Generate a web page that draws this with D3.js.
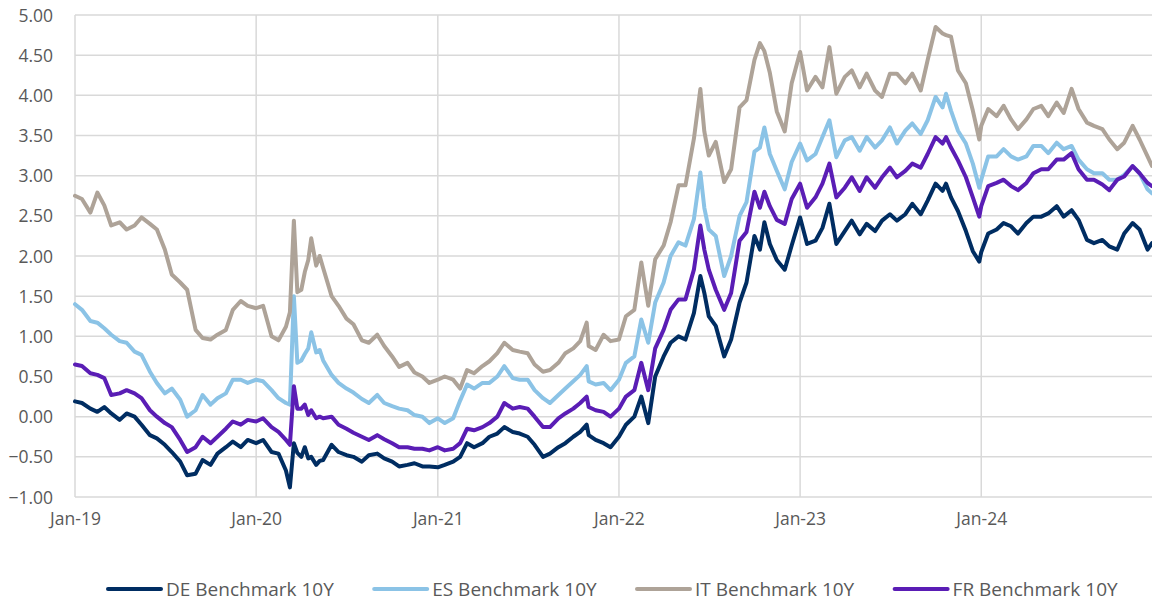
<!DOCTYPE html>
<html lang="en">
<head>
<meta charset="UTF-8">
<title>10Y benchmark yields</title>
<script src="https://d3js.org/d3.v7.min.js"></script>
<style>
  html, body { margin: 0; padding: 0; background: #fff; }
  svg { display: block; }
  text { font-family: "Open Sans", sans-serif; fill: #595959; }
</style>
</head>
<body>
<svg width="1152" height="599"></svg>
<script>
// observation dates (semi-monthly, plus a few spike days)
const dates = [
  "2019-01-01","2019-01-15","2019-02-01","2019-02-15","2019-03-01","2019-03-15","2019-04-01","2019-04-15",
  "2019-05-01","2019-05-15","2019-06-01","2019-06-15","2019-07-01","2019-07-15","2019-08-01","2019-08-15",
  "2019-09-01","2019-09-15","2019-10-01","2019-10-15","2019-11-01","2019-11-15","2019-12-01","2019-12-15",
  "2020-01-01","2020-01-15","2020-02-01","2020-02-15","2020-03-01","2020-03-09","2020-03-17","2020-03-24",
  "2020-04-01","2020-04-08","2020-04-15","2020-04-21","2020-05-01","2020-05-08","2020-05-15","2020-06-01",
  "2020-06-15","2020-07-01","2020-07-15","2020-08-01","2020-08-15","2020-09-01","2020-09-15","2020-10-01",
  "2020-10-15","2020-11-01","2020-11-15","2020-12-01","2020-12-15",
  "2021-01-01","2021-01-15","2021-02-01","2021-02-15","2021-03-01","2021-03-15","2021-04-01","2021-04-15",
  "2021-05-01","2021-05-15","2021-06-01","2021-06-15","2021-07-01","2021-07-15","2021-08-01","2021-08-15",
  "2021-09-01","2021-09-15","2021-10-01","2021-10-15","2021-10-28","2021-11-01","2021-11-15","2021-12-01",
  "2021-12-15",
  "2022-01-01","2022-01-15","2022-02-01","2022-02-15","2022-03-01","2022-03-15","2022-04-01","2022-04-15",
  "2022-05-01","2022-05-15","2022-06-01","2022-06-14","2022-06-22","2022-07-01","2022-07-15","2022-08-01",
  "2022-08-15","2022-09-01","2022-09-15","2022-10-01","2022-10-12","2022-10-21","2022-11-01","2022-11-15",
  "2022-12-01","2022-12-15",
  "2023-01-01","2023-01-15","2023-02-01","2023-02-15","2023-03-01","2023-03-15","2023-04-01","2023-04-15",
  "2023-05-01","2023-05-15","2023-06-01","2023-06-15","2023-07-01","2023-07-15","2023-08-01","2023-08-15",
  "2023-09-01","2023-09-15","2023-10-01","2023-10-15","2023-10-22","2023-11-01","2023-11-15","2023-12-01",
  "2023-12-15","2023-12-28",
  "2024-01-01","2024-01-15","2024-02-01","2024-02-15","2024-03-01","2024-03-15","2024-04-01","2024-04-15",
  "2024-05-01","2024-05-15","2024-06-01","2024-06-15","2024-07-01","2024-07-15","2024-08-01","2024-08-15",
  "2024-09-01","2024-09-15","2024-10-01","2024-10-15","2024-11-01","2024-11-15","2024-12-01","2024-12-10"
];

const deValues = [
  0.19, 0.17, 0.10, 0.06, 0.12, 0.04, -0.04, 0.04, 0.00, -0.10, -0.23, -0.27, -0.35, -0.44, -0.56, -0.73, -0.71, -0.54, -0.60, -0.46, -0.38, -0.31, -0.38, -0.29,
  -0.33, -0.29, -0.44, -0.46, -0.67, -0.88, -0.33, -0.45, -0.50, -0.38, -0.52, -0.50, -0.60, -0.55, -0.54, -0.35, -0.44, -0.48, -0.50, -0.56, -0.48, -0.46, -0.52, -0.56, -0.62, -0.60, -0.58, -0.62, -0.62,
  -0.63, -0.60, -0.56, -0.50, -0.33, -0.38, -0.33, -0.25, -0.21, -0.13, -0.19, -0.21, -0.25, -0.35, -0.50, -0.46, -0.38, -0.33, -0.25, -0.19, -0.10, -0.23, -0.29, -0.33, -0.38,
  -0.25, -0.10, 0.00, 0.25, -0.08, 0.50, 0.75, 0.92, 1.00, 0.96, 1.29, 1.75, 1.54, 1.25, 1.13, 0.75, 0.96, 1.42, 1.67, 2.25, 2.08, 2.42, 2.15, 1.95, 1.83, 2.13,
  2.48, 2.15, 2.19, 2.35, 2.65, 2.15, 2.31, 2.44, 2.27, 2.40, 2.31, 2.44, 2.52, 2.44, 2.52, 2.65, 2.52, 2.69, 2.90, 2.81, 2.90, 2.73, 2.56, 2.31, 2.06, 1.93,
  2.05, 2.28, 2.33, 2.41, 2.37, 2.28, 2.41, 2.49, 2.49, 2.53, 2.62, 2.49, 2.57, 2.45, 2.20, 2.16, 2.20, 2.12, 2.08, 2.28, 2.41, 2.33, 2.08, 2.16
];

const esValues = [
  1.40, 1.33, 1.19, 1.17, 1.10, 1.02, 0.94, 0.92, 0.81, 0.77, 0.56, 0.42, 0.29, 0.35, 0.21, 0.00, 0.08, 0.27, 0.15, 0.23, 0.29, 0.46, 0.46, 0.42,
  0.46, 0.44, 0.33, 0.23, 0.17, 0.15, 1.50, 0.67, 0.70, 0.78, 0.85, 1.05, 0.80, 0.83, 0.70, 0.52, 0.42, 0.35, 0.30, 0.22, 0.17, 0.27, 0.17, 0.13, 0.10, 0.08, 0.02, 0.00, -0.08,
  -0.02, -0.08, -0.02, 0.20, 0.40, 0.35, 0.42, 0.42, 0.50, 0.63, 0.48, 0.46, 0.46, 0.33, 0.23, 0.17, 0.27, 0.35, 0.44, 0.52, 0.63, 0.44, 0.40, 0.42, 0.33,
  0.46, 0.67, 0.75, 1.21, 0.92, 1.42, 1.67, 2.00, 2.17, 2.13, 2.46, 3.04, 2.60, 2.33, 2.25, 1.75, 2.00, 2.50, 2.67, 3.30, 3.35, 3.60, 3.27, 3.06, 2.83, 3.17,
  3.40, 3.19, 3.27, 3.48, 3.69, 3.23, 3.44, 3.48, 3.31, 3.48, 3.35, 3.44, 3.60, 3.40, 3.56, 3.65, 3.52, 3.69, 3.98, 3.85, 4.02, 3.81, 3.56, 3.40, 3.15, 2.85,
  2.95, 3.24, 3.24, 3.33, 3.24, 3.20, 3.24, 3.37, 3.37, 3.28, 3.41, 3.33, 3.37, 3.20, 3.08, 3.03, 3.03, 2.95, 2.95, 3.01, 3.12, 3.03, 2.83, 2.78
];

const itValues = [
  2.75, 2.71, 2.54, 2.79, 2.63, 2.38, 2.42, 2.33, 2.38, 2.48, 2.40, 2.33, 2.08, 1.77, 1.67, 1.58, 1.08, 0.98, 0.96, 1.02, 1.08, 1.33, 1.44, 1.38,
  1.35, 1.38, 1.00, 0.95, 1.12, 1.30, 2.44, 1.55, 1.58, 1.80, 1.95, 2.22, 1.88, 2.00, 1.85, 1.50, 1.38, 1.22, 1.15, 0.95, 0.92, 1.02, 0.88, 0.75, 0.62, 0.67, 0.55, 0.50, 0.42,
  0.46, 0.50, 0.46, 0.35, 0.58, 0.54, 0.63, 0.69, 0.79, 0.92, 0.83, 0.81, 0.79, 0.65, 0.56, 0.58, 0.67, 0.79, 0.85, 0.94, 1.17, 0.88, 0.83, 1.02, 0.94,
  0.96, 1.25, 1.33, 1.92, 1.38, 1.96, 2.13, 2.42, 2.88, 2.88, 3.46, 4.08, 3.55, 3.25, 3.42, 2.92, 3.08, 3.85, 3.94, 4.44, 4.65, 4.55, 4.28, 3.80, 3.55, 4.15,
  4.54, 4.06, 4.23, 4.10, 4.60, 4.02, 4.23, 4.31, 4.10, 4.27, 4.06, 3.98, 4.27, 4.27, 4.15, 4.27, 4.06, 4.44, 4.85, 4.77, 4.75, 4.73, 4.31, 4.15, 3.81, 3.45,
  3.62, 3.83, 3.74, 3.87, 3.70, 3.58, 3.70, 3.83, 3.87, 3.74, 3.91, 3.78, 4.08, 3.83, 3.66, 3.62, 3.58, 3.45, 3.33, 3.41, 3.62, 3.45, 3.24, 3.12
];

const frValues = [
  0.65, 0.63, 0.54, 0.52, 0.48, 0.27, 0.29, 0.33, 0.29, 0.23, 0.08, 0.00, -0.08, -0.13, -0.29, -0.44, -0.38, -0.25, -0.33, -0.25, -0.15, -0.06, -0.10, -0.04,
  -0.06, -0.02, -0.13, -0.19, -0.29, -0.35, 0.38, 0.10, 0.10, 0.15, 0.02, 0.08, -0.02, 0.00, -0.02, 0.00, -0.10, -0.15, -0.20, -0.25, -0.29, -0.23, -0.28, -0.33, -0.38, -0.38, -0.40, -0.40, -0.42,
  -0.38, -0.42, -0.40, -0.33, -0.15, -0.17, -0.13, -0.08, 0.00, 0.17, 0.10, 0.12, 0.10, 0.00, -0.13, -0.13, -0.02, 0.04, 0.10, 0.17, 0.25, 0.12, 0.08, 0.06, 0.00,
  0.10, 0.25, 0.33, 0.67, 0.33, 0.85, 1.08, 1.33, 1.46, 1.46, 1.83, 2.38, 2.08, 1.83, 1.58, 1.33, 1.54, 2.19, 2.30, 2.80, 2.60, 2.80, 2.62, 2.45, 2.40, 2.71,
  2.90, 2.60, 2.73, 2.90, 3.15, 2.73, 2.85, 2.98, 2.81, 2.98, 2.85, 2.98, 3.10, 2.98, 3.06, 3.15, 3.10, 3.27, 3.48, 3.40, 3.48, 3.35, 3.19, 2.98, 2.73, 2.49,
  2.62, 2.87, 2.91, 2.95, 2.87, 2.82, 2.91, 3.03, 3.08, 3.08, 3.20, 3.20, 3.28, 3.08, 2.95, 2.95, 2.89, 2.82, 2.95, 2.99, 3.12, 3.03, 2.91, 2.87
];

const seriesNames = ["DE Benchmark 10Y", "ES Benchmark 10Y", "IT Benchmark 10Y", "FR Benchmark 10Y"];
const seriesColors = ["#002d62", "#8bc3e6", "#aea398", "#5a1db5"];
const xTickLabels = ["Jan-19", "Jan-20", "Jan-21", "Jan-22", "Jan-23", "Jan-24"];
const yTicks = [-1, -0.5, 0, 0.5, 1, 1.5, 2, 2.5, 3, 3.5, 4, 4.5, 5];

const parse = d3.timeParse("%Y-%m-%d");
const series = [deValues, esValues, itValues, frValues].map((vals, i) => ({
  name: seriesNames[i],
  color: seriesColors[i],
  points: vals.map((v, j) => ({ date: parse(dates[j]), value: v }))
}));

const svg = d3.select("svg");
const plotLeft = 75, plotRight = 1152, plotTop = 15, plotBottom = 497;

const x = d3.scaleTime()
  .domain([parse("2019-01-01"), parse("2024-12-10")])
  .range([plotLeft, plotRight]);
const y = d3.scaleLinear().domain([-1, 5]).range([plotBottom, plotTop]);

// gridlines
const grid = svg.append("g");
grid.selectAll("line.h")
  .data(yTicks)
  .join("line")
  .attr("class", "h")
  .attr("x1", plotLeft).attr("x2", 1152)
  .attr("y1", d => y(d)).attr("y2", d => y(d))
  .attr("stroke", "#d9d9d9").attr("stroke-width", 1.5);

const janDates = xTickLabels.map(t => d3.timeParse("%b-%y")(t));
grid.selectAll("line.v")
  .data(janDates)
  .join("line")
  .attr("class", "v")
  .attr("x1", d => x(d)).attr("x2", d => x(d))
  .attr("y1", plotTop).attr("y2", plotBottom)
  .attr("stroke", "#d9d9d9").attr("stroke-width", 1.5);

// axes (text only, Excel style)
const yAxis = svg.append("g")
  .attr("transform", "translate(" + (plotLeft - 22) + ",0)")
  .call(d3.axisLeft(y).tickValues(yTicks).tickFormat(d3.format(".2f")).tickSize(0).tickPadding(0));
yAxis.select(".domain").remove();
yAxis.selectAll("text").style("font-size", "17.5px").attr("fill", "#595959").attr("dy", "0.35em");

const xAxis = svg.append("g")
  .attr("transform", "translate(0," + (plotBottom + 16) + ")")
  .call(d3.axisBottom(x).tickValues(janDates).tickFormat(d3.timeFormat("%b-%y")).tickSize(0).tickPadding(0));
xAxis.select(".domain").remove();
xAxis.selectAll("text").style("font-size", "17.5px").attr("fill", "#595959");

// lines
const line = d3.line().x(d => x(d.date)).y(d => y(d.value));
svg.append("g")
  .selectAll("path")
  .data(series)
  .join("path")
  .attr("d", d => line(d.points))
  .attr("fill", "none")
  .attr("stroke", d => d.color)
  .attr("stroke-width", 4)
  .attr("stroke-linejoin", "round")
  .attr("stroke-linecap", "round");

// legend
const legend = svg.append("g");
const items = legend.selectAll("g")
  .data(series)
  .join("g");
items.append("line")
  .attr("x1", 0).attr("x2", 53)
  .attr("y1", 0).attr("y2", 0)
  .attr("stroke", d => d.color)
  .attr("stroke-width", 4)
  .attr("stroke-linecap", "round");
items.append("text")
  .attr("x", 58)
  .attr("dy", "0.35em")
  .style("font-size", "19px")
  .text(d => d.name);

let widths = [];
items.each(function() { widths.push(this.getBBox().width); });
const gap = 40;
const total = d3.sum(widths) + gap * (widths.length - 1);
let cx = 613 - total / 2;
items.attr("transform", (d, i) => {
  const t = "translate(" + cx + ",589)";
  cx += widths[i] + gap;
  return t;
});
</script>
</body>
</html>
